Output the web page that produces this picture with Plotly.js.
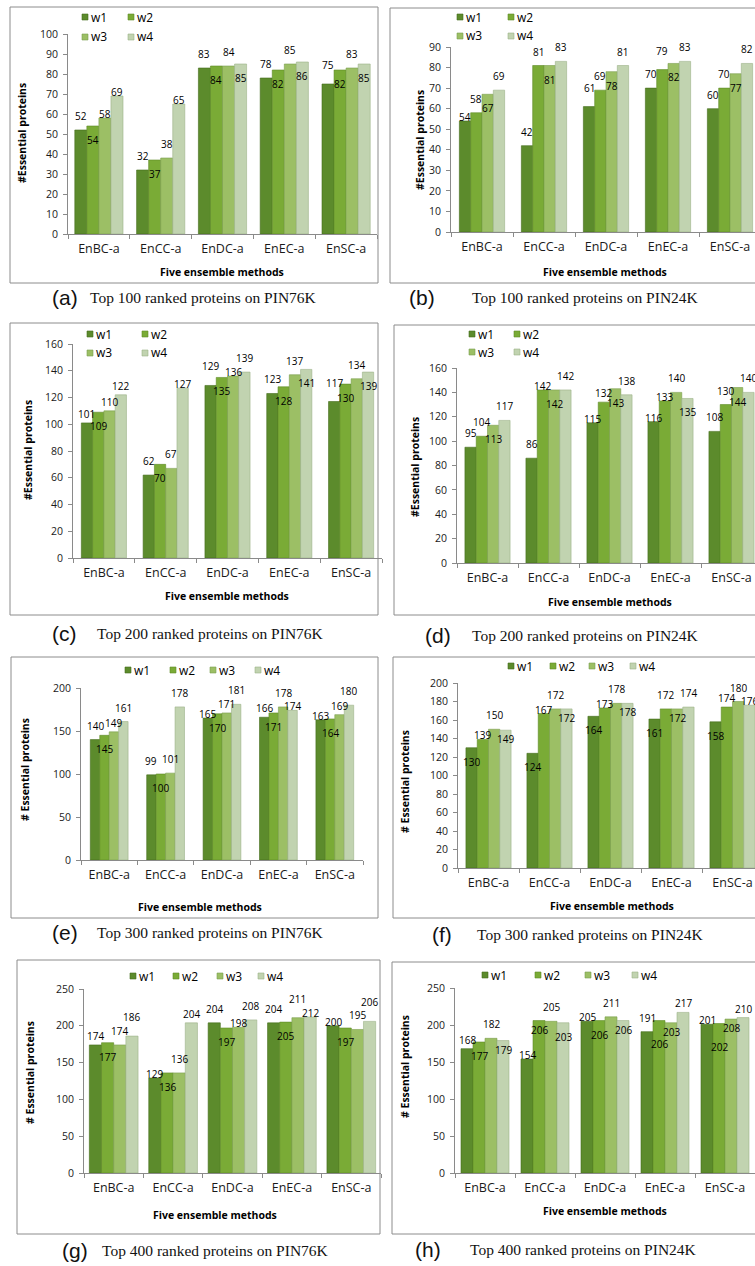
<!DOCTYPE html>
<html>
<head>
<meta charset="utf-8">
<script src="https://cdn.plot.ly/plotly-3.0.1.min.js"></script>
<style>
  html, body { margin: 0; padding: 0; overflow: hidden; background: #fff; }
  #chart { width: 770px; height: 1266px; }
</style>
</head>
<body>
<div id="chart"></div>
<script>
// Ensemble methods on the x axis and the four weighting schemes
const methods = ['EnBC-a', 'EnCC-a', 'EnDC-a', 'EnEC-a', 'EnSC-a'];
const weights = ['w1', 'w2', 'w3', 'w4'];

// Number of essential proteins; rows are w1..w4, columns follow `methods`
const top100_PIN76K = [
  [52, 32, 83, 78, 75],
  [54, 37, 84, 82, 82],
  [58, 38, 84, 85, 83],
  [69, 65, 85, 86, 85]
];
const top100_PIN24K = [
  [54, 42, 61, 70, 60],
  [58, 81, 69, 79, 70],
  [67, 81, 78, 82, 77],
  [69, 83, 81, 83, 82]
];
const top200_PIN76K = [
  [101, 62, 129, 123, 117],
  [109, 70, 135, 128, 130],
  [110, 67, 136, 137, 134],
  [122, 127, 139, 141, 139]
];
const top200_PIN24K = [
  [95, 86, 115, 116, 108],
  [104, 142, 132, 133, 130],
  [113, 142, 143, 140, 144],
  [117, 142, 138, 135, 140]
];
const top300_PIN76K = [
  [140, 99, 165, 166, 163],
  [145, 100, 170, 171, 164],
  [149, 101, 171, 178, 169],
  [161, 178, 181, 174, 180]
];
const top300_PIN24K = [
  [130, 124, 164, 161, 158],
  [139, 167, 173, 172, 174],
  [150, 172, 178, 172, 180],
  [149, 172, 178, 174, 176]
];
const top400_PIN76K = [
  [174, 129, 204, 204, 200],
  [177, 136, 197, 205, 197],
  [174, 136, 198, 211, 195],
  [186, 204, 208, 212, 206]
];
const top400_PIN24K = [
  [168, 154, 205, 191, 201],
  [177, 206, 206, 206, 202],
  [182, 205, 211, 203, 208],
  [179, 203, 206, 217, 210]
];

const captions = [
  'Top 100 ranked proteins on PIN76K', 'Top 100 ranked proteins on PIN24K',
  'Top 200 ranked proteins on PIN76K', 'Top 200 ranked proteins on PIN24K',
  'Top 300 ranked proteins on PIN76K', 'Top 300 ranked proteins on PIN24K',
  'Top 400 ranked proteins on PIN76K', 'Top 400 ranked proteins on PIN24K'
];
const letters = ['(a)', '(b)', '(c)', '(d)', '(e)', '(f)', '(g)', '(h)'];
const xTitle = 'Five ensemble methods';
const yTitles = ['#Essential proteins', '#Essential proteins', '#Essential proteins', '#Essential proteins',
                 '# Essential proteins', '# Essential proteins', '# Essential proteins', '# Essential proteins'];

// ---- page geometry (pixels) ----
const W = 770, H = 1266;
const fx = v => v / W;
const fy = v => 1 - v / H;

const barColors = ['#5c8b2c', '#7aab36', '#9cbf65', '#c1d3b0'];
const edgeColors = ['#456b1d', '#5e8a27', '#7b9e4d', '#9cb288'];

// Vertical offset (px) of a value label from its bar top:
// h/o/m/l sit above the top (high .. low), j/i/d sit under it (shallow .. deep)
const labelShift = { h: 19, o: 14, m: 9, l: 4, j: -9, i: -14, d: -23 };

// Per-panel layout: frame, plot area, scale, key positions and label placement per method
const panels = [
  { values: top100_PIN76K, box: [10, 7, 378, 283], px: [68, 377], py: [34, 234], ymax: 100, dtick: 10, gap: 0.22,
    yt: [22, 133], xt: [222, 272], capY: 297, letterX: 50, capX: 88,
    key: { xs: [82, 128, 82, 128], ys: [17, 17, 37, 37] },
    place: ['oill', 'oiol', 'oioi', 'oioi', 'hioi'] },
  { values: top100_PIN24K, box: [390, 8, 800, 283], px: [451, 761], py: [47, 232], ymax: 90, dtick: 10, gap: 0.27,
    yt: [420, 140], xt: [605, 272], capY: 297, letterX: 407, capX: 470,
    key: { xs: [457, 508, 457, 508], ys: [17, 17, 36, 36] },
    place: ['loio', 'ooio', 'hoio', 'ohio', 'ooio'] },
  { values: top200_PIN76K, box: [10, 323, 378, 615], px: [73, 382], py: [344, 558], ymax: 160, dtick: 20, gap: 0.27,
    yt: [28, 450], xt: [227, 596], capY: 633, letterX: 50, capX: 95,
    key: { xs: [87, 142, 87, 142], ys: [334, 334, 353, 353] },
    place: ['mimm', 'oiol', 'hilo', 'oioi', 'hioi'] },
  { values: top200_PIN24K, box: [394, 325, 800, 615], px: [457, 762], py: [368, 563], ymax: 160, dtick: 20, gap: 0.26,
    yt: [415, 467], xt: [610, 602], capY: 635, letterX: 423, capX: 470,
    key: { xs: [469, 514, 469, 514], ys: [334, 334, 352, 352] },
    place: ['ooio', 'olio', 'lmio', 'lloi', 'ooio'] },
  { values: top300_PIN76K, box: [11, 657, 378, 918], px: [81, 363], py: [688, 860], ymax: 200, dtick: 50, gap: 0.33,
    yt: [25, 769], xt: [200, 907], capY: 932, letterX: 50, capX: 95,
    key: { xs: [125, 170, 210, 255], ys: [670, 670, 670, 670] },
    place: ['oimo', 'oioo', 'limo', 'miol', 'limo'] },
  { values: top300_PIN24K, box: [393, 657, 800, 918], px: [458, 763], py: [683, 868], ymax: 200, dtick: 20, gap: 0.26,
    yt: [405, 782], xt: [612, 906], capY: 935, letterX: 430, capX: 475,
    key: { xs: [508, 550, 589, 630], ys: [666, 666, 666, 666] },
    place: ['iloj', 'iloj', 'iloj', 'iojo', 'imol'] },
  { values: top400_PIN76K, box: [17, 960, 380, 1234], px: [84, 381], py: [989, 1173], ymax: 250, dtick: 50, gap: 0.18,
    yt: [30, 1073], xt: [215, 1215], capY: 1250, letterX: 60, capX: 100,
    key: { xs: [130, 173, 217, 258], ys: [976, 976, 976, 976] },
    place: ['mioh', 'liom', 'oilo', 'oihl', 'lioh'] },
  { values: top400_PIN24K, box: [392, 962, 800, 1234], px: [455, 755], py: [988, 1173], ymax: 250, dtick: 50, gap: 0.2,
    yt: [405, 1067], xt: [605, 1211], capY: 1249, letterX: 413, capX: 468,
    key: { xs: [482, 535, 585, 632], ys: [975, 975, 975, 975] },
    place: ['mioj', 'ljoi', 'lioj', 'odjm', 'ldjm'] }
];

const fam = 'Open Sans, sans-serif';
const xTickFont = { family: fam, size: 12.5, color: '#1a1a1a' };
const yTickFont = { family: fam, size: 10.5, color: '#1a1a1a' };
const labelFont = { family: fam, size: 10, color: '#000' };
const keyFont = { family: fam, size: 12, color: '#000' };
const titleFont = { family: fam, size: 10.5, color: '#000', weight: 'bold' };
const axisGray = '#8a8a8a';

const traces = [];
const layout = {
  width: W, height: H, autosize: false,
  margin: { l: 0, r: 0, t: 0, b: 0, pad: 0 },
  paper_bgcolor: '#fff', plot_bgcolor: 'rgba(0,0,0,0)',
  barmode: 'group',
  showlegend: false,
  font: yTickFont,
  shapes: [], annotations: []
};

panels.forEach((p, i) => {
  const s = i === 0 ? '' : String(i + 1);
  const groupW = 1 - p.gap;
  const barW = groupW / 4;
  const pxPerCat = (p.px[1] - p.px[0]) / methods.length;

  weights.forEach((w, k) => {
    const off = -groupW / 2 + k * barW;
    traces.push({
      type: 'bar',
      name: w,
      x: methods,
      y: p.values[k],
      xaxis: 'x' + s,
      yaxis: 'y' + s,
      width: barW,
      offset: off,
      marker: { color: barColors[k], line: { color: edgeColors[k], width: 0.6 } },
      hoverinfo: 'x+y+name'
    });

    // value labels, anchored to each bar's own value on the panel's axes
    p.values[k].forEach((v, j) => {
      layout.annotations.push({
        xref: 'x' + s, yref: 'y' + s,
        x: methods[j], y: v,
        xshift: (off + barW / 2) * pxPerCat,
        yshift: labelShift[p.place[j][k]],
        text: String(v), showarrow: false,
        xanchor: 'center', yanchor: 'middle',
        font: labelFont
      });
    });

    // key entry: small swatch + series name
    layout.shapes.push({
      type: 'rect', xref: 'paper', yref: 'paper',
      x0: fx(p.key.xs[k]), x1: fx(p.key.xs[k] + 6),
      y0: fy(p.key.ys[k] + 3), y1: fy(p.key.ys[k] - 3),
      fillcolor: barColors[k], line: { color: edgeColors[k], width: 0.6 }
    });
    layout.annotations.push({
      xref: 'paper', yref: 'paper',
      x: fx(p.key.xs[k] + 7), y: fy(p.key.ys[k]),
      text: w, showarrow: false, xanchor: 'left', yanchor: 'middle',
      font: keyFont
    });
  });

  layout['xaxis' + s] = {
    domain: [fx(p.px[0]), fx(p.px[1])],
    anchor: 'y' + s,
    type: 'category',
    range: [-0.5, 4.5],
    showline: true, linecolor: axisGray, linewidth: 1,
    ticks: 'outside', tickson: 'boundaries', ticklen: 4, tickcolor: axisGray,
    tickfont: xTickFont, ticklabelstandoff: 3,
    showgrid: false, zeroline: false, fixedrange: true
  };
  layout['yaxis' + s] = {
    domain: [fy(p.py[1]), fy(p.py[0])],
    anchor: 'x' + s,
    range: [0, p.ymax], dtick: p.dtick, tick0: 0,
    showline: true, linecolor: axisGray, linewidth: 1,
    ticks: 'outside', ticklen: 4, tickcolor: axisGray,
    tickfont: yTickFont, ticklabelstandoff: 3,
    showgrid: false, zeroline: false, fixedrange: true
  };

  // panel frame
  layout.shapes.push({
    type: 'rect', xref: 'paper', yref: 'paper', layer: 'below',
    x0: fx(p.box[0]), x1: fx(p.box[2]), y0: fy(p.box[3]), y1: fy(p.box[1]),
    line: { color: '#8c8c8c', width: 1 }, fillcolor: 'rgba(0,0,0,0)'
  });

  // axis titles
  layout.annotations.push({
    xref: 'paper', yref: 'paper', x: fx(p.yt[0]), y: fy(p.yt[1]),
    text: yTitles[i], textangle: -90, showarrow: false,
    xanchor: 'center', yanchor: 'middle', font: titleFont
  });
  layout.annotations.push({
    xref: 'paper', yref: 'paper', x: fx(p.xt[0]), y: fy(p.xt[1]),
    text: xTitle, showarrow: false,
    xanchor: 'center', yanchor: 'middle', font: titleFont
  });

  // caption under the frame
  layout.annotations.push({
    xref: 'paper', yref: 'paper', x: fx(p.letterX), y: fy(p.capY),
    text: letters[i], showarrow: false, xanchor: 'left', yanchor: 'middle',
    font: { family: 'Liberation Sans, Arial, sans-serif', size: 21, color: '#111' }
  });
  layout.annotations.push({
    xref: 'paper', yref: 'paper', x: fx(p.capX), y: fy(p.capY),
    text: captions[i], showarrow: false, xanchor: 'left', yanchor: 'middle',
    font: { family: 'Liberation Serif, Times New Roman, serif', size: 15.5, color: '#111' }
  });
});

Plotly.newPlot('chart', traces, layout, { staticPlot: true, displayModeBar: false });
</script>
</body>
</html>
